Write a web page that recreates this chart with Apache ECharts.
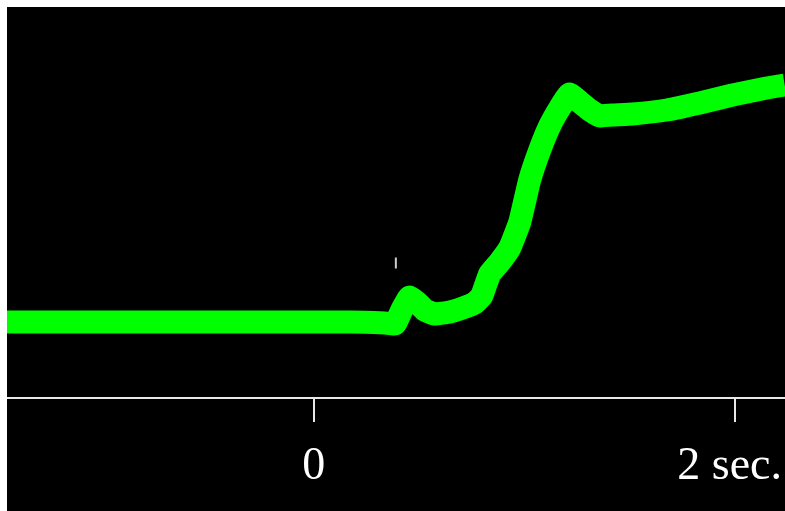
<!DOCTYPE html>
<html>
<head>
<meta charset="utf-8">
<script src="https://cdn.jsdelivr.net/npm/echarts@6/dist/echarts.min.js"></script>
<style>
  html, body {
    margin: 0;
    padding: 0;
    background: #fff;
  }
  #chart {
    position: absolute;
    left: 7px;
    top: 7px;
    width: 778px;
    height: 504px;
    background: #000;
  }
</style>
</head>
<body>
<div id="chart"></div>
<script>
  // time in seconds, trace in arbitrary units
  var times = [-1.458, -1.254, -1.017, -0.779, -0.542, -0.304, -0.067, 0.171, 0.337, 0.385,
    0.418, 0.456, 0.494, 0.527, 0.575, 0.646, 0.708, 0.765, 0.798, 0.836,
    0.884, 0.931, 0.979, 1.026, 1.074, 1.121, 1.169, 1.216, 1.264, 1.311,
    1.359, 1.420, 1.515, 1.677, 1.834, 1.990, 2.152, 2.238];
  var trace = [76, 76, 76, 76, 76, 76, 76, 76, 75, 74,
    88, 101, 95, 88, 84, 86, 90, 95, 102, 124,
    136, 150, 176, 218, 248, 272, 290, 304, 296, 288,
    282, 283, 284, 288, 295, 303, 310, 313];
  var tickValues = [0, 2];
  var tickLabels = ['0', '2 sec.'];
  var marker = [[0.39, 135]];

  var chart = echarts.init(document.getElementById('chart'));
  chart.setOption({
    backgroundColor: '#000',
    animation: false,
    grid: {
      left: 0,
      right: 0,
      top: 0,
      bottom: 113
    },
    xAxis: {
      type: 'value',
      min: -1.458,
      max: 2.238,
      axisLine: {
        lineStyle: { color: '#e8e8e8', width: 2 }
      },
      axisTick: {
        show: true,
        customValues: tickValues,
        length: 24,
        lineStyle: { color: '#e8e8e8', width: 2 }
      },
      axisLabel: {
        customValues: tickValues,
        margin: 46,
        color: '#fff',
        fontSize: 46,
        fontFamily: "'Liberation Serif', 'Times New Roman', serif",
        formatter: function (v) {
          var i = tickValues.indexOf(v);
          if (i === 1) return '{r|' + tickLabels[i] + '}';
          return tickLabels[i];
        },
        rich: {
          r: {
            color: '#fff',
            fontSize: 46,
            fontFamily: "'Liberation Serif', 'Times New Roman', serif",
            padding: [0, 10, 0, 0]
          }
        }
      },
      splitLine: { show: false }
    },
    yAxis: {
      type: 'value',
      min: 0,
      max: 391,
      show: false
    },
    series: [{
        type: 'line',
        data: times.map(function (t, i) { return [t, trace[i]]; }),
        showSymbol: false,
        smooth: 0.12,
        lineStyle: { color: '#00ff00', width: 23, cap: 'butt', join: 'round' }
      },
      {
        type: 'scatter',
        data: marker,
        symbol: 'rect',
        symbolSize: [2, 11],
        itemStyle: { color: '#fff' }
      }
    ]
  });
</script>
</body>
</html>
